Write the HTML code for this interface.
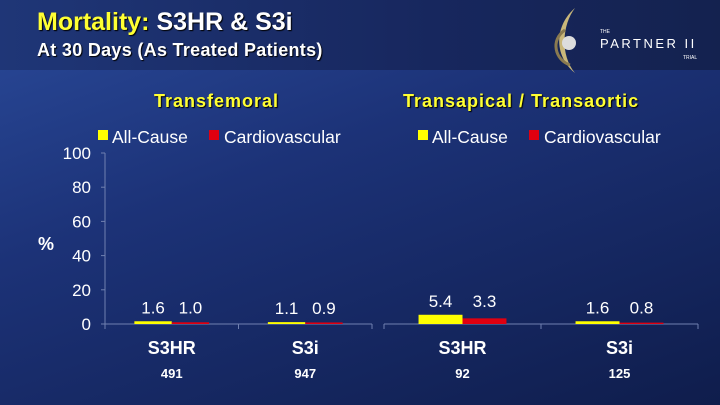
<!DOCTYPE html>
<html><head><meta charset="utf-8"><style>
body{margin:0;width:720px;height:405px;overflow:hidden;font-family:"Liberation Sans",sans-serif}
#bg{position:absolute;left:0;top:0;width:720px;height:405px;background:linear-gradient(160deg,#2a4a9a 0%,#1c3277 40%,#0f1d4c 100%)}
#hdr{position:absolute;left:0;top:0;width:720px;height:70px;background:linear-gradient(90deg,#1f3677,#17275e 60%,#14224f)}
.t{position:absolute;white-space:nowrap;font-weight:bold;text-shadow:1px 1px 1px #000}
</style></head><body>
<div id="bg"></div>
<div id="hdr"></div>
<div class="t" style="left:37px;top:8px;font-size:25px;color:#fff"><span style="color:#ffff33">Mortality:</span> S3HR &amp; S3i</div>
<div class="t" style="left:37px;top:40px;font-size:18px;letter-spacing:0.3px;color:#fff">At 30 Days (As Treated Patients)</div>
<svg style="position:absolute;left:545px;top:5px" width="170" height="70">
<path d="M30 3 C10 20 8 50 30 68 C15 50 17 20 30 3Z" fill="#c9b77a"/>
<path d="M20 25 C5 35 10 55 25 60" stroke="#8a7a50" stroke-width="3" fill="none"/>
<circle cx="24" cy="38" r="7" fill="#ddd"/>
<text x="55" y="28" fill="#fff" font-size="5" font-family="Liberation Sans">THE</text>
<text x="55" y="43" fill="#fff" font-size="13" letter-spacing="2.5" font-family="Liberation Sans">PARTNER II</text>
<text x="138" y="54" fill="#fff" font-size="5" font-family="Liberation Sans">TRIAL</text>
</svg>
<div class="t" style="left:154px;top:91px;font-size:18px;letter-spacing:1px;color:#ffff33">Transfemoral</div>
<div class="t" style="left:403px;top:91px;font-size:18px;letter-spacing:1px;color:#ffff33">Transapical / Transaortic</div>
<svg id="c" width="720" height="405" style="position:absolute;left:0;top:0" font-family="Liberation Sans"></svg>
<script>
const categoriesL=["S3HR","S3i"], nL=["491","947"];
const allCauseL=[1.6,1.1], cardioL=[1.0,0.9];
const categoriesR=["S3HR","S3i"], nR=["92","125"];
const allCauseR=[5.4,1.6], cardioR=[3.3,0.8];
const yTicks=[0,20,40,60,80,100];
const svg=document.getElementById('c'),NS="http://www.w3.org/2000/svg";
function el(t,a,txt){const e=document.createElementNS(NS,t);for(const k in a)e.setAttribute(k,a[k]);if(txt!=null)e.textContent=txt;svg.appendChild(e);return e;}
const y0=324,yTop=153;
function y(v){return y0-(v/100)*(y0-yTop);}
function panel(x0,x1,cats,ns,a,b,axis,legX,pfx){
  const gw=(x1-x0)/cats.length, bw=gw*0.28;
  let e=el('line',{x1:x0,x2:x1,y1:y0,y2:y0,stroke:'#7080b0','stroke-width':1});
  
  if(axis){
    e=el('line',{x1:x0,x2:x0,y1:yTop,y2:y0,stroke:'#7080b0','stroke-width':1});
    
    yTicks.forEach(t=>{e=el('text',{x:x0-14,y:y(t)+6,fill:'#fff','font-size':17,'text-anchor':'end'},t);
      
      el('line',{x1:x0-4,x2:x0,y1:y(t),y2:y(t),stroke:'#7080b0'});});
  }
  for(let i=0;i<=cats.length;i++)el('line',{x1:x0+gw*i,x2:x0+gw*i,y1:y0,y2:y0+5,stroke:'#7080b0'});
  cats.forEach((c,i)=>{
    const cx=x0+gw*(i+0.5);
    const ya=y(a[i]),yb=y(b[i]);
    e=el('rect',{x:cx-bw,y:ya,width:bw,height:y0-ya,fill:'#ffff00'});
    
    e=el('rect',{x:cx,y:yb,width:bw,height:y0-yb,fill:'#e00010'});
    
    e=el('text',{x:cx-bw/2,y:ya-8,fill:'#fff','font-size':17,'text-anchor':'middle'},a[i].toFixed(1));
    
    e=el('text',{x:cx+bw/2,y:ya-8,fill:'#fff','font-size':17,'text-anchor':'middle'},b[i].toFixed(1));
    
    e=el('text',{x:cx,y:354,fill:'#fff','font-size':18,'font-weight':'bold','text-anchor':'middle'},c);
    
    e=el('text',{x:cx,y:378,fill:'#fff','font-size':13,'font-weight':'bold','text-anchor':'middle'},ns[i]);
    
  });
  e=el('rect',{x:legX,y:130,width:10,height:10,fill:'#ffff00'});
  e=el('text',{x:legX+14,y:143,fill:'#fff','font-size':17.5},'All-Cause');
  e=el('rect',{x:legX+111,y:130,width:10,height:10,fill:'#e00010'});
  e=el('text',{x:legX+126,y:143,fill:'#fff','font-size':17.5},'Cardiovascular');
}
panel(105,372,categoriesL,nL,allCauseL,cardioL,true,98,'transfemoral');
panel(384,698,categoriesR,nR,allCauseR,cardioR,false,418,'transapical');
let p=el('text',{x:38,y:250,fill:'#fff','font-size':18,'font-weight':'bold'},'%');

</script>
</body></html>
